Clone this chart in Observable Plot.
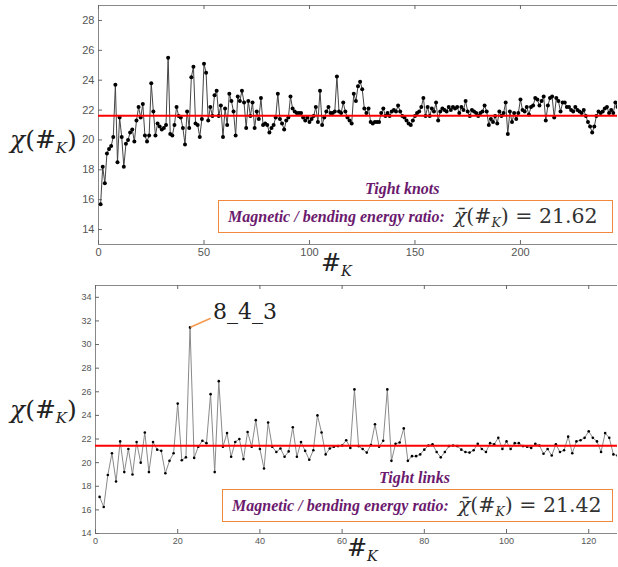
<!DOCTYPE html>
<html><head><meta charset="utf-8">
<script src="https://cdn.jsdelivr.net/npm/d3@7"></script>
<script src="https://cdn.jsdelivr.net/npm/@observablehq/plot@0.6"></script>
<style>
body{margin:0;background:#fff;overflow:hidden}
#wrap{position:relative;width:618px;height:567px;overflow:hidden}
.abs{position:absolute;white-space:nowrap;line-height:1}
.math{font-family:"DejaVu Serif","Liberation Serif",serif;color:#222}
.math i{font-style:italic}
.ylab{font-size:25px}
.xlab{font-size:24px}
.math sub{font-style:italic;font-size:0.6em;vertical-align:-0.35em;line-height:0}
.head{font-family:"Liberation Serif",serif;font-weight:bold;font-style:italic;color:#6b1a6e;font-size:16px}
.box{border:1.5px solid #f0883e;box-sizing:border-box;display:flex;align-items:center;padding-left:9px}
.box .lbl{font-family:"Liberation Serif",serif;font-weight:bold;font-style:italic;color:#6b1a6e;font-size:16px;margin-right:9px}
.box .val{font-family:"DejaVu Serif","Liberation Serif",serif;font-size:20.5px;color:#333}
.box .val i{font-style:italic}
.svgpos{position:absolute;left:0}
</style></head><body><div id="wrap"></div>
<script>
// ---- data ----
const knotsChi = [
15.7,18.2,17.1,19.1,19.4,19.6,20.2,23.7,18.5,21.5,
20.2,18.2,19.75,20.0,20.5,20.7,19.9,21.3,22.2,21.5,
22.4,20.3,19.9,20.3,23.8,21.9,20.3,21.1,20.9,20.7,
20.8,21.0,25.5,20.4,20.3,21.0,22.2,21.6,21.5,20.8,
19.7,21.9,20.8,24.2,24.9,21.1,21.0,20.2,21.4,25.1,
24.5,21.3,22.2,21.6,23.0,23.3,21.6,22.3,20.2,22.1,
21.0,23.1,22.6,21.9,20.3,22.9,22.6,23.3,22.5,20.8,
22.6,21.6,22.5,20.8,21.9,21.4,22.8,21.0,21.1,21.0,
20.5,
20.8,21.0,21.5,23.1,21.4,21.1,20.7,21.3,21.5,22.9,
22.1,21.9,21.8,21.8,21.8,21.5,21.3,21.5,21.2,21.4,
21.6,22.2,21.2,23.3,21.0,21.5,21.9,22.2,21.8,21.8,
21.9,24.25,21.9,21.8,22.5,21.9,21.5,21.3,21.1,23.1,
22.6,23.6,23.9,23.4,22.1,21.8,22.1,21.2,21.1,21.2,
21.2,21.2,21.8,22.1,21.6,21.8,21.6,21.9,22.0,21.9,
22.3,21.9,21.6,21.5,21.3,21.1,21.0,21.3,21.6,
21.8,21.9,22.2,22.8,21.6,22.2,21.6,22.1,21.9,
22.5,21.3,21.9,22.1,22.0,21.9,22.2,
22.0,22.2,22.1,22.2,21.8,22.2,22.0,22.6,21.9,
21.6,22.0,21.9,21.8,21.6,21.8,21.9,22.3,21.9,
21.0,21.4,21.2,21.6,21.1,21.9,21.6,21.8,22.5,
20.4,21.9,21.2,21.8,21.4,21.8,22.7,22.0,21.9,
22.2,21.7,22.2,22.3,22.8,22.7,22.3,22.6,22.9,
21.3,22.3,22.8,22.9,21.5,22.8,22.6,21.9,22.5,
22.5,22.2,22.2,22.0,21.9,22.2,22.0,21.9,
21.8,22.0,21.6,21.2,20.9,20.5,20.9,21.6,21.9,
21.8,21.9,22.1,22.2,21.8,22.0,21.8,22.5,22.2
];
const linksChi = [
17.1,16.25,18.95,20.8,18.4,21.8,19.2,21.15,19.0,21.75,
20.0,22.55,19.2,21.75,21.1,21.0,19.1,20.15,20.8,25.0,
20.2,20.45,31.45,20.4,21.35,21.85,21.65,25.8,19.2,26.9,
21.35,22.5,20.5,21.75,22.0,20.3,22.6,21.35,23.6,21.15,
19.5,23.4,21.35,20.9,21.2,20.5,20.95,23.0,20.5,21.75,
21.0,20.25,21.05,24.0,22.55,20.7,21.2,21.35,21.4,21.45,
21.9,21.25,26.2,21.4,21.15,20.85,21.5,23.25,21.35,21.85,
26.2,20.15,21.6,21.7,22.9,20.15,20.55,20.55,20.7,21.1,
21.45,21.55,20.9,20.45,20.9,21.4,21.45,21.4,21.1,20.9,
20.85,21.05,21.6,21.15,20.9,21.65,21.55,22.1,21.15,21.8,
21.15,21.65,21.65,21.4,21.35,21.25,21.6,21.45,20.75,21.15,
20.6,21.55,20.9,21.05,22.2,20.8,21.8,21.9,22.1,22.65,
22.1,21.8,20.9,22.5,22.1,20.7,20.6,20.9
];
const knotsMean = 21.62;
const linksMean = 21.42;
const knotsXTicks = [0,50,100,150,200];
const knotsYTicks = [14,16,18,20,22,24,26,28];
const linksXTicks = [0,20,40,60,80,100,120];
const linksYTicks = [14,16,18,20,22,24,26,28,30,32,34];
const linksLabelIndex = 23;
const linksLabelText = "8_4_3";
const knotsTitle = "Tight knots";
const linksTitle = "Tight links";
const ratioLabel = "Magnetic / bending energy ratio:";

// ---- build ----
const knots = knotsChi.map((v,i)=>({i:i+1, v}));
const links = linksChi.map((v,i)=>({i:i+1, v}));
const wrap = document.getElementById("wrap");

function panel({data, xTicks, yTicks, xDomain, yDomain, height, marginLeft, marginTop, marginBottom, fontSize, lineColor, dotR, mean, extra=[]}) {
  const frameH = height - marginTop - marginBottom;
  const frameW = 618 - marginLeft - 1;
  return Plot.plot({
    width: 618, height, marginLeft, marginRight: 1, marginTop, marginBottom,
    x: {domain: xDomain}, y: {domain: yDomain},
    style: {fontFamily: "'Liberation Sans', Arial, sans-serif", fontSize: fontSize + "px", color: "#555", background: "transparent"},
    marks: [
      Plot.axisX(xTicks, {tickSize: 0, tickPadding: 4, label: null, fill: "#555"}),
      Plot.axisY(yTicks, {tickSize: 0, tickPadding: 4, label: null, fill: "#555"}),
      Plot.ruleY([yDomain[0]], {stroke: "#888"}),
      Plot.ruleY([yDomain[1]], {stroke: "#888"}),
      Plot.ruleX([xDomain[0]], {stroke: "#888"}),
      Plot.tickX(xTicks, {x: d => d, insetTop: frameH - 4, stroke: "#666"}),
      Plot.tickX(xTicks, {x: d => d, insetBottom: frameH - 4, stroke: "#666"}),
      Plot.tickY(yTicks, {y: d => d, insetRight: frameW - 4, stroke: "#666"}),
      Plot.line(data, {x: "i", y: "v", stroke: lineColor, strokeWidth: 1, clip: true}),
      Plot.dot(data, {x: "i", y: "v", r: dotR, fill: "#000", clip: true}),
      Plot.ruleY([mean], {stroke: "#ff0000", strokeWidth: 2}),
      ...extra
    ]
  });
}

const topPlot = panel({data: knots, xTicks: knotsXTicks, yTicks: knotsYTicks, xDomain: [0, 246], yDomain: [13, 29],
  height: 266, marginLeft: 98, marginTop: 5, marginBottom: 22, fontSize: 11, lineColor: "#444", dotR: 2, mean: knotsMean});
topPlot.classList.add("svgpos"); topPlot.style.top = "0px";
wrap.appendChild(topPlot);

const peak = links.filter(d => d.i === linksLabelIndex);
const botPlot = panel({data: links, xTicks: linksXTicks, yTicks: linksYTicks, xDomain: [0, 127], yDomain: [14, 35],
  height: 273, marginLeft: 95, marginTop: 5, marginBottom: 20, fontSize: 9, lineColor: "#8a8a8a", dotR: 1.3, mean: linksMean,
  extra: [
    Plot.vector(peak, {x: "i", y: "v", rotate: 66, length: 22, anchor: "start", stroke: "#f59a50", strokeWidth: 1.6,
      shape: {draw(ctx, l) { ctx.moveTo(0, -1); ctx.lineTo(0, -l); }}}),
    Plot.text(peak, {x: "i", y: "v", text: () => linksLabelText, dx: 23, dy: -15, textAnchor: "start",
      fontSize: 22, fontFamily: "'DejaVu Serif', serif", fill: "#222"})
  ]});
botPlot.classList.add("svgpos"); botPlot.style.top = "280px";
wrap.appendChild(botPlot);

function addHTML(html, css) {
  const d = document.createElement("div");
  d.className = "abs";
  d.innerHTML = html;
  Object.assign(d.style, css);
  wrap.appendChild(d);
  return d;
}
const chiLabel = '<span class="math ylab"><i>χ</i>(#<sub>K</sub>)</span>';
const kLabel = '<span class="math xlab">#<sub>K</sub></span>';
addHTML(chiLabel, {left: "10px", top: "127px"});
addHTML(chiLabel, {left: "10px", top: "397px"});
addHTML(kLabel, {left: "321px", top: "251px"});
addHTML(kLabel, {left: "347px", top: "536px"});

addHTML(`<span class="head">${knotsTitle}</span>`, {left: "365px", top: "181px"});
addHTML(`<span class="head">${linksTitle}</span>`, {left: "379px", top: "470px"});

function box(left, top, width, mean) {
  const d = addHTML(`<span class="lbl">${ratioLabel}</span><span class="val"><i>χ̄</i>(#<sub>K</sub>)&nbsp;=&nbsp;${mean.toFixed(2)}</span>`,
    {left: left + "px", top: top + "px", width: width + "px", height: "33px"});
  d.classList.add("box");
  d.querySelector(".val").classList.add("math");
}
box(218, 200, 395, knotsMean);
box(222, 489, 391, linksMean);
</script>
</body></html>
